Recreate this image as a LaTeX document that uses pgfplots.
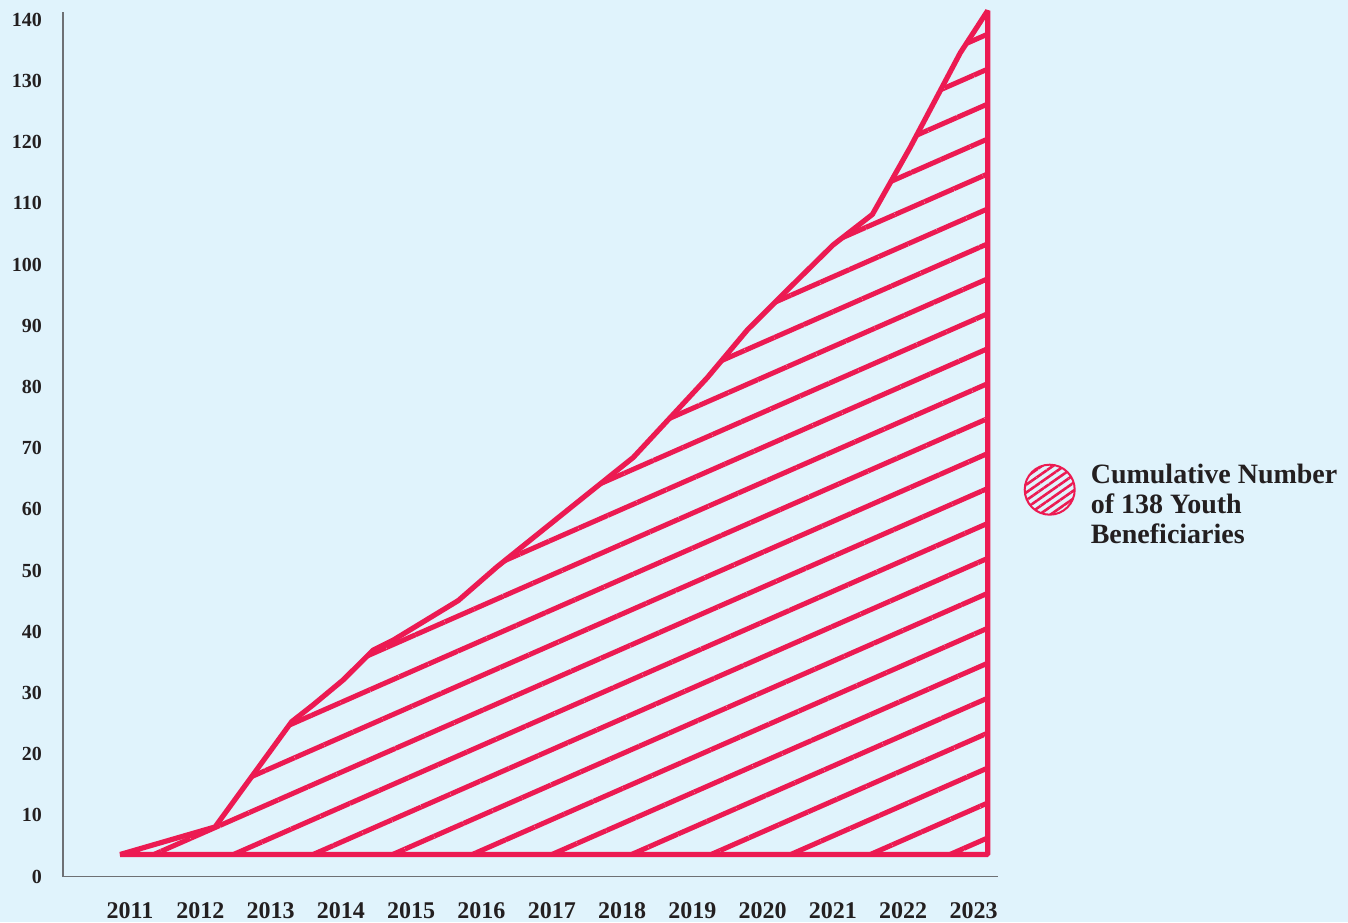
\documentclass[border=0pt]{standalone}
\usepackage{fontspec}
\setmainfont{Liberation Serif}
\usepackage{pgfplots}
\pgfplotsset{compat=1.18}
\usetikzlibrary{patterns.meta,backgrounds,calc}
\definecolor{bg}{RGB}{224,243,252}
\definecolor{crim}{RGB}{236,26,82}
\definecolor{axgray}{RGB}{110,112,116}
\definecolor{txt}{RGB}{35,31,32}

\begin{document}
\begin{tikzpicture}
\begin{axis}[
  name=ax,
  scale only axis,
  width=467.5pt, height=432pt,
  xmin=2010.047, xmax=2023.347,
  ymin=0, ymax=141.2,
  axis lines=left,
  axis line style={-, draw=axgray, line width=0.8pt},
  major tick length=0pt,
  xtick={2011,...,2023},
  ytick={0,10,...,140},
  /pgf/number format/1000 sep={},
  /pgf/number format/assume math mode=true,
  xticklabel style={font=\fontsize{12}{14}\selectfont\bfseries, text=txt, anchor=north, inner sep=0pt, yshift=-13pt},
  yticklabel style={font=\fontsize{10}{12}\selectfont\bfseries, text=txt, anchor=east, inner sep=0pt, xshift=-10.4pt},
  clip=false,
  legend style={draw=none, fill=none, at={(axis description cs:1,0.4477)}, anchor=west,
    xshift=12.5pt, inner sep=0pt, font=\fontsize{14}{15}\selectfont\bfseries, text=txt},
  legend cell align=left,
  legend image code/.code={
    \draw[crim, line width=1pt, pattern={Lines[angle=35,distance=3.2pt,line width=1.3pt]}, pattern color=crim]
      (12.75pt,0pt) circle[radius=12.5pt];
    \path (30pt,0pt);
  },
]
% cumulative number of youth beneficiaries (outline of the hatched area)
\addplot[draw=crim, line width=2.6pt, line join=bevel,
  pattern={Lines[angle=23.7,distance=16pt,line width=2.5pt]}, pattern color=crim]
  coordinates {
  (2010.86,3.6) (2012.21,8.1) (2013.30,25.3) (2013.60,28.0) (2014.03,32.1)
  (2014.46,37.0) (2014.74,38.6) (2015.67,45.1) (2016.22,50.6) (2017.40,61.5)
  (2018.16,68.5) (2019.21,81.5) (2019.78,89.3) (2020.39,96.3) (2021.00,103.2)
  (2021.56,108.2) (2022.10,119.2) (2022.81,134.6) (2023.20,141.5) (2023.20,3.6)
  } -- cycle;
\addlegendentry{\begin{tabular}{@{}l@{}}Cumulative Number\\of 138 Youth\\Beneficiaries\end{tabular}}
\end{axis}
\begin{scope}[on background layer]
\fill[bg] ($(ax.south west)+(-31.5pt,-22.75pt)$) rectangle +(674pt,461pt);
\end{scope}
\end{tikzpicture}
\end{document}
